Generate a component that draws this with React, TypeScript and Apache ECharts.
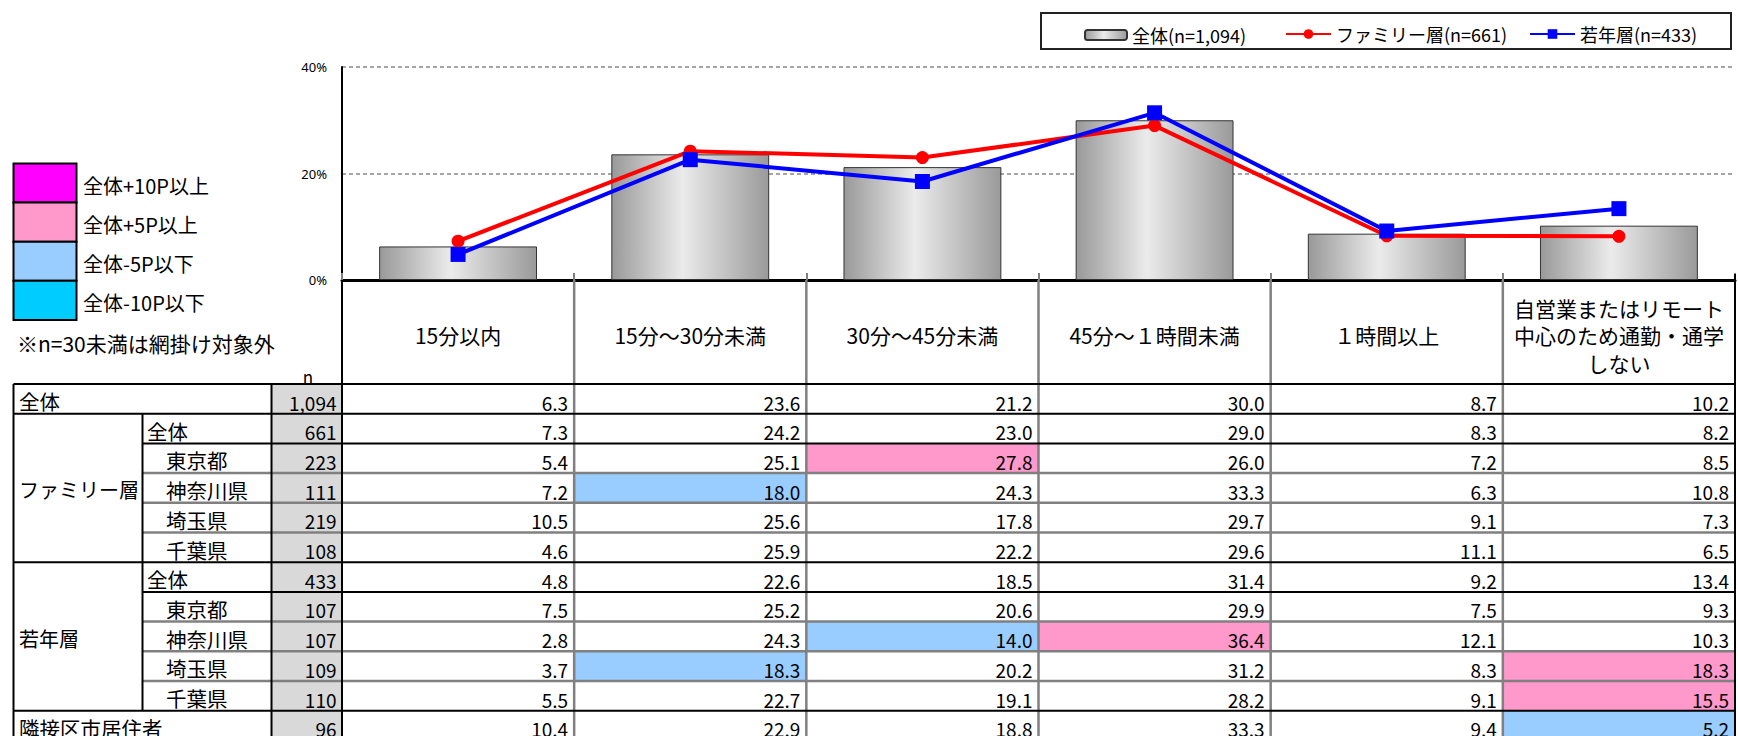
import React, { useEffect, useRef } from "react";
import * as echarts from "echarts";

// ---------- data ----------
const categories = [
  "15分以内",
  "15分～30分未満",
  "30分～45分未満",
  "45分～１時間未満",
  "１時間以上",
  "自営業またはリモート\n中心のため通勤・通学\nしない",
];
const seriesNames = ["全体(n=1,094)", "ファミリー層(n=661)", "若年層(n=433)"];
const overallValues = [6.3, 23.6, 21.2, 30.0, 8.7, 10.2];
const familyValues = [7.3, 24.2, 23.0, 29.0, 8.3, 8.2];
const youngValues = [4.8, 22.6, 18.5, 31.4, 9.2, 13.4];

const keyLabels = ["全体+10P以上", "全体+5P以上", "全体-5P以下", "全体-10P以下"];
const keyColors = ["#ff00ff", "#ff99cc", "#99ccff", "#00ccff"];
const noteText = "※n=30未満は網掛け対象外";

const rowLabels = [
  "全体",
  "全体",
  "東京都",
  "神奈川県",
  "埼玉県",
  "千葉県",
  "全体",
  "東京都",
  "神奈川県",
  "埼玉県",
  "千葉県",
  "隣接区市居住者",
];
const rowKinds = ["span", "sub", "pref", "pref", "pref", "pref", "sub", "pref", "pref", "pref", "pref", "span"];
const rowN = [1094, 661, 223, 111, 219, 108, 433, 107, 107, 109, 110, 96];
const groupNames = ["ファミリー層", "若年層"];
const groupFirstRow = [1, 6];
const groupLastRow = [5, 10];
const tableValues = [
  [6.3, 23.6, 21.2, 30.0, 8.7, 10.2],
  [7.3, 24.2, 23.0, 29.0, 8.3, 8.2],
  [5.4, 25.1, 27.8, 26.0, 7.2, 8.5],
  [7.2, 18.0, 24.3, 33.3, 6.3, 10.8],
  [10.5, 25.6, 17.8, 29.7, 9.1, 7.3],
  [4.6, 25.9, 22.2, 29.6, 11.1, 6.5],
  [4.8, 22.6, 18.5, 31.4, 9.2, 13.4],
  [7.5, 25.2, 20.6, 29.9, 7.5, 9.3],
  [2.8, 24.3, 14.0, 36.4, 12.1, 10.3],
  [3.7, 18.3, 20.2, 31.2, 8.3, 18.3],
  [5.5, 22.7, 19.1, 28.2, 9.1, 15.5],
  [10.4, 22.9, 18.8, 33.3, 9.4, 5.2],
];
// rows drawn with black separators below them (others gray)
const blackFullRows = [0, 5, 10]; // full-width black line under these rows
const blackSubRows = [1, 6]; // black line under these rows from group col

// ---------- layout ----------
const W = 1738;
const H = 736;
const FONT = "'Noto Sans CJK JP', 'Noto Sans', sans-serif";
const PLOT_L = 342;
const PLOT_R = 1735;
const PLOT_T = 67;
const PLOT_B = 280;
const TABLE_TOP = 384;
const ROW_H = 29.7;
const X_LEFT = 13.5;
const X_GROUP = 142.5;
const X_N = 271.5;
const COL_W = (PLOT_R - PLOT_L) / 6;

export default function App() {
  const ref = useRef<HTMLDivElement>(null);

  useEffect(() => {
    const el = ref.current!;
    const chart = echarts.init(el, undefined, { renderer: "svg", width: W, height: H });

    const g: any[] = [];
    const addLine = (x1: number, y1: number, x2: number, y2: number, stroke: string, lw: number, z: number) =>
      g.push({ type: "line", silent: true, z, shape: { x1, y1, x2, y2 }, style: { stroke, lineWidth: lw } });
    const addRect = (x: number, y: number, w: number, h: number, fill: string, z: number, stroke?: string, lw?: number) =>
      g.push({
        type: "rect",
        silent: true,
        z,
        shape: { x, y, width: w, height: h },
        style: { fill, stroke: stroke || "none", lineWidth: lw || 0 },
      });
    const addText = (x: number, y: number, t: string, size: number, align: string, z = 6) =>
      g.push({
        type: "text",
        silent: true,
        z,
        x,
        y,
        style: {
          text: t,
          fill: "#000",
          fontSize: size,
          fontFamily: FONT,
          align,
          textAlign: align,
          verticalAlign: "middle",
          textVerticalAlign: "middle",
        },
      });

    // legend frame
    addRect(1041, 13, 690, 36, "#fff", 0, "#222", 2);

    // colour key
    keyColors.forEach((c, i) => {
      const y = 163.5 + i * 39.1;
      addRect(X_LEFT, y, 63, 39.1, c, 3, "#000", 2);
      addText(83, y + 22, keyLabels[i], 20, "left");
    });
    addText(17, 343, noteText, 21, "left");
    addText(308, 376, "n", 17, "center");

    const rowTop = (r: number) => TABLE_TOP + r * ROW_H;
    const tableBottom = H + 5;

    // n column background
    addRect(X_N, TABLE_TOP, PLOT_L - X_N, tableBottom - TABLE_TOP, "#d9d9d9", 1);

    // highlighted cells + numbers
    tableValues.forEach((row, r) => {
      const ty = rowTop(r) + 18;
      row.forEach((v, c) => {
        const diff = Math.round((v - tableValues[0][c]) * 10) / 10;
        let fill = "";
        if (r > 0 && rowN[r] >= 30) {
          if (diff >= 10) fill = keyColors[0];
          else if (diff >= 5) fill = keyColors[1];
          else if (diff <= -10) fill = keyColors[3];
          else if (diff <= -5) fill = keyColors[2];
        }
        const x0 = PLOT_L + c * COL_W;
        if (fill) addRect(x0, rowTop(r), COL_W, ROW_H, fill, 1);
        addText(x0 + COL_W - 6, ty, v.toFixed(1), 19, "right");
      });
      addText(X_N + 65, ty, rowN[r].toLocaleString("en-US"), 19, "right");
      const kind = rowKinds[r];
      const lx = kind === "span" ? 19 : kind === "sub" ? 147 : 166;
      addText(lx, ty - 1, rowLabels[r], 20.5, "left");
    });

    groupNames.forEach((name, i) => {
      const yc = (rowTop(groupFirstRow[i]) + rowTop(groupLastRow[i] + 1)) / 2 + 2;
      addText(19, yc, name, 20, "left");
    });

    // horizontal separators
    for (let r = 0; r < tableValues.length; r++) {
      const y = rowTop(r + 1);
      if (blackFullRows.includes(r)) addLine(X_LEFT, y, PLOT_R, y, "#000", 2, 4);
      else if (blackSubRows.includes(r)) addLine(X_GROUP, y, PLOT_R, y, "#000", 2, 4);
      else addLine(X_GROUP, y, PLOT_R, y, "#808080", 2.5, 3);
    }
    addLine(X_LEFT, TABLE_TOP, PLOT_L, TABLE_TOP, "#000", 2, 4);
    addLine(PLOT_L, TABLE_TOP, PLOT_R, TABLE_TOP, "#000", 2, 4);

    // vertical separators
    for (let c = 1; c < 6; c++) {
      const x = PLOT_L + c * COL_W;
      addLine(x, PLOT_B, x, tableBottom, "#808080", 2.5, 3);
    }
    addLine(X_LEFT, TABLE_TOP, X_LEFT, tableBottom, "#000", 2, 4);
    addLine(X_GROUP, rowTop(1), X_GROUP, rowTop(11), "#000", 2, 4);
    addLine(X_N, TABLE_TOP, X_N, tableBottom, "#000", 2, 4);
    addLine(PLOT_L, PLOT_B, PLOT_L, tableBottom, "#000", 2, 4);
    addLine(PLOT_R, PLOT_B - 6, PLOT_R, tableBottom, "#000", 2, 4);

    const barGradient = new echarts.graphic.LinearGradient(0, 0, 1, 0, [
      { offset: 0, color: "#999999" },
      { offset: 0.45, color: "#ebebeb" },
      { offset: 1, color: "#9a9a9a" },
    ]);

    const legendBase = {
      orient: "horizontal",
      padding: 0,
      itemGap: 0,
      selectedMode: false,
      textStyle: { fontSize: 18, fontFamily: FONT, color: "#000" },
    };

    const option: any = {
      animation: false,
      backgroundColor: "#fff",
      textStyle: { fontFamily: FONT },
      grid: { left: PLOT_L, right: W - PLOT_R, top: PLOT_T, bottom: H - PLOT_B, containLabel: false },
      legend: [
        { ...legendBase, data: [seriesNames[0]], left: 1084, top: 26, itemWidth: 42, itemHeight: 10 },
        { ...legendBase, data: [seriesNames[1]], left: 1285, top: 25, itemWidth: 45, itemHeight: 12 },
        { ...legendBase, data: [seriesNames[2]], left: 1529, top: 25, itemWidth: 45, itemHeight: 12 },
      ],
      xAxis: {
        type: "category",
        data: categories,
        axisLine: { lineStyle: { color: "#000", width: 3 } },
        axisTick: { show: true, inside: true, length: 7, lineStyle: { color: "#808080", width: 2 } },
        axisLabel: {
          interval: 0,
          margin: 55,
          verticalAlign: "middle",
          lineHeight: 27.5,
          fontSize: 21,
          fontFamily: FONT,
          color: "#000",
        },
      },
      yAxis: {
        type: "value",
        min: 0,
        max: 40,
        interval: 20,
        axisLine: { show: true, lineStyle: { color: "#000", width: 2 } },
        axisTick: { show: false },
        axisLabel: { formatter: "{value}%", fontSize: 13, color: "#000", margin: 15, fontFamily: "'Noto Sans', sans-serif" },
        splitLine: { lineStyle: { color: "#888", width: 1.5, type: [4, 3] } },
      },
      series: [
        {
          name: seriesNames[0],
          type: "bar",
          data: overallValues,
          barCategoryGap: "32%",
          itemStyle: { color: barGradient, borderColor: "#333", borderWidth: 1 },
          z: 2,
        },
        {
          name: seriesNames[1],
          type: "line",
          data: familyValues,
          symbol: "circle",
          symbolSize: 13,
          lineStyle: { color: "#ff0000", width: 4 },
          itemStyle: { color: "#ff0000" },
          z: 3,
        },
        {
          name: seriesNames[2],
          type: "line",
          data: youngValues,
          symbol: "rect",
          symbolSize: 15,
          lineStyle: { color: "#0000ff", width: 4 },
          itemStyle: { color: "#0000ff" },
          z: 4,
        },
      ],
      graphic: g,
    };

    chart.setOption(option);
    return () => chart.dispose();
  }, []);

  return (
    <div
      ref={ref}
      style={{ position: "absolute", left: 0, top: 0, width: W, height: H, background: "#fff" }}
    />
  );
}
